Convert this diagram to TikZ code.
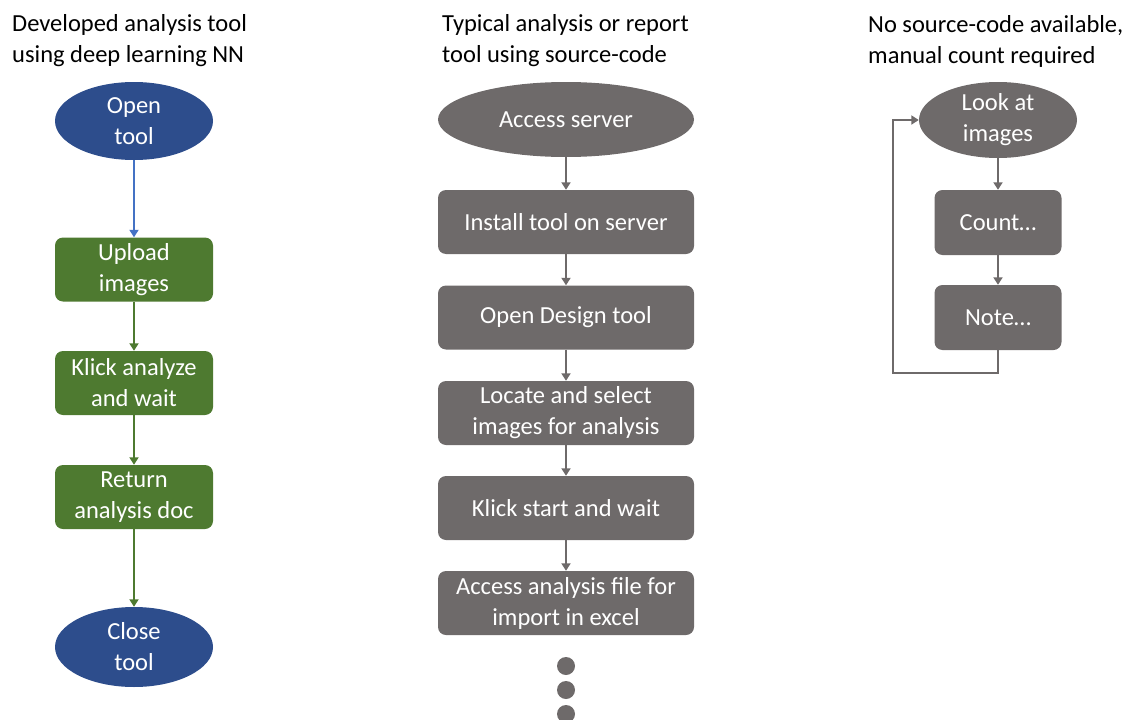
\documentclass[tikz,border=0pt]{standalone}
\usepackage{fontspec}
\setmainfont{Carlito}
\usetikzlibrary{shapes.geometric,arrows.meta}
\definecolor{navyfill}{RGB}{45,77,140}
\definecolor{linkblue}{RGB}{68,114,196}
\definecolor{leaf}{RGB}{78,122,48}
\definecolor{slate}{RGB}{110,106,106}
\tikzset{
  txt/.style={font=\fontsize{24.5}{31}\selectfont, align=center, text=white, inner sep=0pt},
  oval/.style={txt, ellipse, minimum width=158pt, minimum height=78pt},
  box/.style={txt, rectangle, rounded corners=8pt, minimum width=158pt, minimum height=64pt},
  widebox/.style={box, minimum width=256pt},
  head/.style={font=\fontsize{24.5}{31}\selectfont, align=left, anchor=west, inner sep=0pt},
  flow/.style={line width=1.8pt, -{Triangle[width=9pt,length=7.5pt]}},
  dot/.style={circle, fill=slate, minimum size=18pt, inner sep=0pt}
}
\begin{document}
\begin{tikzpicture}[x=1pt,y=-1pt]
\useasboundingbox (0,0) rectangle (1128,720);

% column headings
\node[head] (h1) at (12,41) {Developed analysis tool\\using deep learning NN};
\node[head] (h2) at (442,41) {Typical analysis or report\\tool using source-code};
\node[head] (h3) at (868,41) {No source-code available,\\manual count required};

% left column: deep learning tool
\node[oval, fill=navyfill] (open) at (134,121) {Open\\tool};
\node[box, fill=leaf] (upload) at (134,269.5) {Upload\\images};
\node[box, fill=leaf] (klick) at (134,383) {Klick analyze\\and wait};
\node[box, fill=leaf] (ret) at (134,497) {Return\\analysis doc};
\node[oval, fill=navyfill, minimum height=80pt] (close) at (134,647) {Close\\tool};

\draw[flow, linkblue] (open) -- (upload);
\draw[flow, leaf] (upload) -- (klick);
\draw[flow, leaf] (klick) -- (ret);
\draw[flow, leaf] (ret) -- (close);

% middle column: source-code based tool
\node[oval, fill=slate, minimum width=256pt, minimum height=75pt] (server) at (566,119.5) {Access server};
\node[widebox, fill=slate] (install) at (566,222) {Install tool on server};
\node[widebox, fill=slate] (design) at (566,317.5) {Open Design tool};
\node[widebox, fill=slate] (locate) at (566,413) {Locate and select\\images for analysis};
\node[widebox, fill=slate] (start) at (566,508) {Klick start and wait};
\node[widebox, fill=slate] (access) at (566,603) {Access analysis file for\\import in excel};
\node[dot] (d1) at (566,666) {};
\node[dot] (d2) at (566,690) {};
\node[dot] (d3) at (566,714) {};

\draw[flow, slate] (server) -- (install);
\draw[flow, slate] (install) -- (design);
\draw[flow, slate] (design) -- (locate);
\draw[flow, slate] (locate) -- (start);
\draw[flow, slate] (start) -- (access);

% right column: manual counting loop
\node[oval, fill=slate, minimum height=76pt] (look) at (998,120) {Look at\\images};
\node[box, fill=slate, minimum width=127pt, minimum height=65pt] (count) at (998,222.5) {Count…};
\node[box, fill=slate, minimum width=127pt, minimum height=65pt] (note) at (998,317.5) {Note…};

\draw[flow, slate] (look) -- (count);
\draw[flow, slate] (count) -- (note);
\coordinate (loopA) at (998,373);
\coordinate (loopB) at (893,373);
\coordinate (loopC) at (893,120);
\draw[flow, slate] (note.south) -- (loopA) -- (loopB) -- (loopC) -- (look.west);
\end{tikzpicture}
\end{document}
